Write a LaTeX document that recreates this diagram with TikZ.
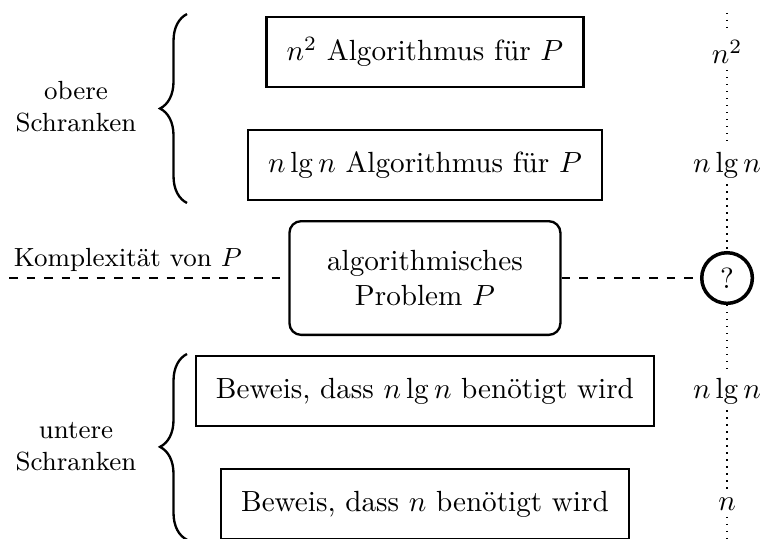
\documentclass[tikz,border=0pt]{standalone}
\usepackage{amsmath}
\usepackage{tikz}
\usetikzlibrary{decorations.pathreplacing}

\begin{document}
\begin{tikzpicture}[
    kasten/.style={draw, thick, minimum height=0.84cm, inner xsep=6.9pt},
    problem/.style={draw, thick, rounded corners=4pt, minimum width=3.265cm, minimum height=1.37cm, align=center},
    wert/.style={inner sep=2pt},
    frage/.style={draw, very thick, circle, minimum size=0.61cm, inner sep=0pt},
    klammer/.style={thick, decorate, decoration={brace, amplitude=0.325cm}},
    schranke/.style={align=center, font=\small}
    ]
    \useasboundingbox (0,0) rectangle (9.169,6.494);
    %%Kaesten
    \node[kasten] (alg2) at (5.12,5.868) {$n^2$ Algorithmus für $P$};
    \node[kasten] (alg1) at (5.12,4.506) {$n\lg n$ Algorithmus für $P$};
    \node[problem] (prob) at (5.12,3.144) {algorithmisches\\Problem $P$};
    \node[kasten] (bew1) at (5.12,1.782) {Beweis, dass $n\lg n$ benötigt wird};
    \node[kasten] (bew2) at (5.12,0.42) {Beweis, dass $n$ benötigt wird};
    %%Werte rechts
    \coordinate (oben) at (8.76,6.34);
    \coordinate (unten) at (8.76,0);
    \node[wert] (w1) at (8.76,5.868) {$n^2$};
    \node[wert] (w2) at (8.76,4.506) {$n\lg n$};
    \node[frage] (w3) at (8.76,3.144) {?};
    \node[wert] (w4) at (8.76,1.782) {$n\lg n$};
    \node[wert] (w5) at (8.76,0.42) {$n$};
    \draw[dotted] (oben) -- (w1) -- (w2) -- (w3) -- (w4) -- (w5) -- (unten);
    %%Komplexitaet
    \coordinate (links) at (0.11,3.144);
    \draw[dashed] (links) -- (prob) -- (w3);
    \node[above, font=\small, inner sep=2pt] (kompl) at (1.54,3.144) {Komplexität von $P$};
    %%Klammern
    \draw[klammer] (2.253,4.048) -- (2.253,6.325);
    \draw[klammer] (2.253,-0.01) -- (2.253,2.229);
    \node[schranke] (obere) at (0.915,5.205) {obere\\Schranken};
    \node[schranke] (untere) at (0.915,1.108) {untere\\Schranken};
\end{tikzpicture}
\end{document}
